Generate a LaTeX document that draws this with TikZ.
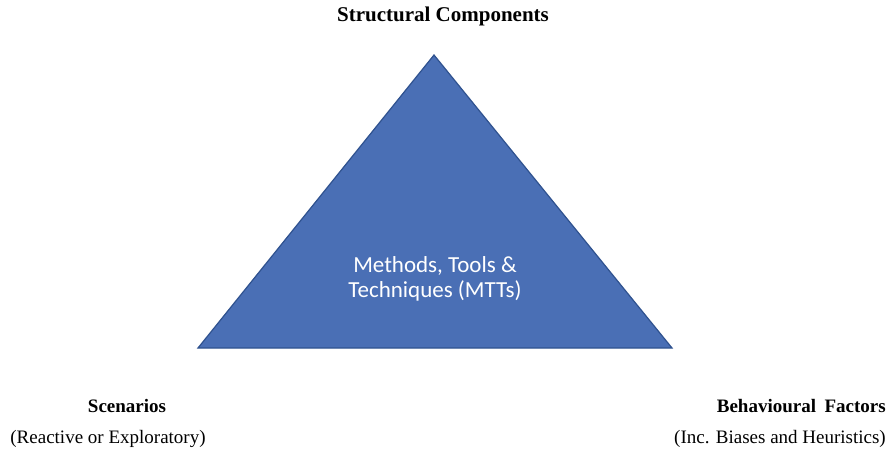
\documentclass[tikz,border=0pt]{standalone}
\usepackage{fontspec}
\setmainfont{Liberation Serif}
\newfontfamily\shapefont{Carlito}
\definecolor{trifill}{HTML}{4A6FB5}
\definecolor{triedge}{HTML}{2F528F}
\begin{document}
\begin{tikzpicture}[x=1pt,y=-1pt,
  corner/.style={font=\fontsize{19}{22}\selectfont\bfseries, inner sep=0pt, anchor=base},
  sub/.style={font=\fontsize{19}{22}\selectfont, inner sep=0pt, anchor=base},
  inside/.style={text=white, font=\shapefont\fontsize{23}{25}\selectfont, inner sep=0pt, anchor=base}]
\useasboundingbox (0,0) rectangle (893,450);
% central triangle
\coordinate (apex) at (434,55);
\coordinate (bl) at (198,348);
\coordinate (br) at (672,348);
\draw[triedge, line width=1.2pt, fill=trifill, line join=miter] (apex) -- (br) -- (bl) -- cycle;
\node[inside] (mtt1) at (435,272) {Methods, Tools \&};
\node[inside] (mtt2) at (435,297) {Techniques (MTTs)};
% vertex labels
\node[corner, font=\fontsize{21}{24}\selectfont\bfseries] (top) at (443,21) {Structural Components};
\node[corner] (scen) at (127,412) {Scenarios};
\node[sub] (scensub) at (108,443) {(Reactive or Exploratory)};
\node[corner, anchor=base east] (beh) at (886,412) {Behavioural\hspace{0.45em}Factors};
\node[sub, anchor=base east] (behsub) at (886,443) {(Inc. Biases and Heuristics)};
\end{tikzpicture}
\end{document}
